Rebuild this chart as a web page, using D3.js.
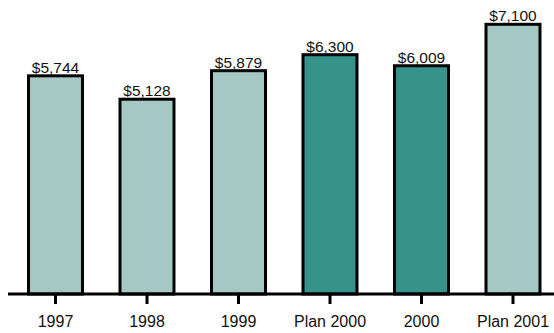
<html>
<head>
    <meta charset="UTF-8">
    <title>Bar chart</title>
    <script src="https://cdn.jsdelivr.net/npm/d3@7/dist/d3.min.js"></script>
    <style>
        body { margin: 0; background: #fff; }
        text { font-family: "Liberation Sans", Arial, sans-serif; fill: #111; }
    </style>
</head>
<body>
    <svg id="mySvg" width="554" height="333"></svg>
    <script>
        // data
        var categories = ["1997", "1998", "1999", "Plan 2000", "2000", "Plan 2001"];
        var values = [5744, 5128, 5879, 6300, 6009, 7100];
        var valueLabels = ["$5,744", "$5,128", "$5,879", "$6,300", "$6,009", "$7,100"];
        var highlighted = [false, false, false, true, true, false];

        var width = 554, height = 333;
        var baseY = 294;
        var svg = d3.select("#mySvg");

        var x = d3.scaleBand()
            .domain(categories)
            .range([9.75, 558.75])
            .paddingInner(0.41)
            .paddingOuter(0.205);

        var y = d3.scaleLinear()
            .domain([0, 7740])
            .range([baseY, 0]);

        // bars
        svg.selectAll("rect.bar")
            .data(values)
            .enter()
            .append("rect")
            .attr("class", "bar")
            .attr("x", function (d, i) { return x(categories[i]); })
            .attr("y", function (d) { return y(d); })
            .attr("width", x.bandwidth())
            .attr("height", function (d) { return baseY - y(d); })
            .attr("fill", function (d, i) { return highlighted[i] ? "#35938a" : "#a6c8c5"; })
            .attr("stroke", "#000")
            .attr("stroke-width", 3);

        // value labels
        svg.selectAll("text.val")
            .data(values)
            .enter()
            .append("text")
            .attr("class", "val")
            .attr("x", function (d, i) { return x(categories[i]) + x.bandwidth() / 2; })
            .attr("y", function (d) { return y(d) - 3; })
            .attr("text-anchor", "middle")
            .style("font-size", "15.5px")
            .text(function (d, i) { return valueLabels[i]; });

        // x axis
        var axis = d3.axisBottom(x).tickSize(10).tickPadding(11.5);
        var g = svg.append("g")
            .attr("transform", "translate(0," + baseY + ")")
            .call(axis);
        g.select(".domain").remove();
        g.selectAll(".tick line").attr("stroke", "#000").attr("stroke-width", 3);
        g.selectAll(".tick text")
            .style("font-size", "16px")
            .attr("fill", "#111");
        g.append("line")
            .attr("x1", 8)
            .attr("x2", width)
            .attr("y1", 0)
            .attr("y2", 0)
            .attr("stroke", "#000")
            .attr("stroke-width", 3);
    </script>
</body>
</html>
